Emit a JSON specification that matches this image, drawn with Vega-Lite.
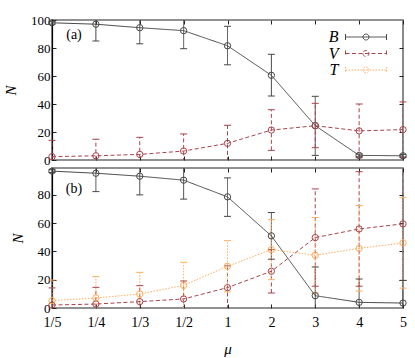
{
  "$schema": "https://vega.github.io/schema/vega-lite/v6.json",
  "padding": {"left": 2, "top": 13, "right": 5, "bottom": 0},
  "config": {
    "font": "Liberation Serif",
    "view": {"stroke": "#6e6e6e", "strokeWidth": 1.6},
    "axis": {"labelFont": "Liberation Serif", "labelFontSize": 13, "labelColor": "#000", "tickColor": "#222", "tickSize": -4, "grid": false, "domain": false, "titleFont": "Liberation Serif", "titleColor": "#000", "labelAngle": 0},
    "concat": {"spacing": -3}
  },
  "datasets": {
    "d": [
      {"p": "a", "mu": "1/5", "s": "B", "n": 98, "lo": 97, "hi": 99},
      {"p": "a", "mu": "1/4", "s": "B", "n": 97, "lo": 85, "hi": 109},
      {"p": "a", "mu": "1/3", "s": "B", "n": 94.5, "lo": 83, "hi": 106},
      {"p": "a", "mu": "1/2", "s": "B", "n": 92.4, "lo": 79.5, "hi": 105},
      {"p": "a", "mu": "1", "s": "B", "n": 81.6, "lo": 68, "hi": 95.5},
      {"p": "a", "mu": "2", "s": "B", "n": 60.5, "lo": 45.7, "hi": 75.5},
      {"p": "a", "mu": "3", "s": "B", "n": 24.5, "lo": 3.3, "hi": 45.5},
      {"p": "a", "mu": "4", "s": "B", "n": 3.3, "lo": 2.3, "hi": 4.3},
      {"p": "a", "mu": "5", "s": "B", "n": 3, "lo": 2, "hi": 4},
      {"p": "a", "mu": "1/5", "s": "V", "n": 2.4, "lo": -9, "hi": 14},
      {"p": "a", "mu": "1/4", "s": "V", "n": 3, "lo": -9, "hi": 14.8},
      {"p": "a", "mu": "1/3", "s": "V", "n": 4, "lo": -8, "hi": 16.2},
      {"p": "a", "mu": "1/2", "s": "V", "n": 6.4, "lo": -6, "hi": 18.6},
      {"p": "a", "mu": "1", "s": "V", "n": 11.9, "lo": -1, "hi": 24.8},
      {"p": "a", "mu": "2", "s": "V", "n": 21.4, "lo": 6.9, "hi": 35.9},
      {"p": "a", "mu": "3", "s": "V", "n": 24.5, "lo": 8.8, "hi": 40.5},
      {"p": "a", "mu": "4", "s": "V", "n": 20.8, "lo": 1.6, "hi": 40},
      {"p": "a", "mu": "5", "s": "V", "n": 21.7, "lo": 2, "hi": 41.5},
      {"p": "b", "mu": "1/5", "s": "B", "n": 96.8, "lo": 95.8, "hi": 97.8},
      {"p": "b", "mu": "1/4", "s": "B", "n": 95.3, "lo": 82.3, "hi": 108},
      {"p": "b", "mu": "1/3", "s": "B", "n": 93.2, "lo": 80, "hi": 106},
      {"p": "b", "mu": "1/2", "s": "B", "n": 90.4, "lo": 77, "hi": 104},
      {"p": "b", "mu": "1", "s": "B", "n": 78.6, "lo": 64.8, "hi": 92},
      {"p": "b", "mu": "2", "s": "B", "n": 51, "lo": 34.5, "hi": 67.5},
      {"p": "b", "mu": "3", "s": "B", "n": 8.7, "lo": -12, "hi": 29},
      {"p": "b", "mu": "4", "s": "B", "n": 4, "lo": -12.5, "hi": 20.5},
      {"p": "b", "mu": "5", "s": "B", "n": 3.5, "lo": -12.5, "hi": 19.5},
      {"p": "b", "mu": "1/5", "s": "V", "n": 2.1, "lo": -10, "hi": 14.2},
      {"p": "b", "mu": "1/4", "s": "V", "n": 2.8, "lo": -9, "hi": 14.6},
      {"p": "b", "mu": "1/3", "s": "V", "n": 4.5, "lo": -7, "hi": 15.8},
      {"p": "b", "mu": "1/2", "s": "V", "n": 6.4, "lo": -6, "hi": 19.1},
      {"p": "b", "mu": "1", "s": "V", "n": 14.4, "lo": -1, "hi": 29.8},
      {"p": "b", "mu": "2", "s": "V", "n": 26, "lo": 10.6, "hi": 41.4},
      {"p": "b", "mu": "3", "s": "V", "n": 49.8, "lo": 15.4, "hi": 84.2},
      {"p": "b", "mu": "4", "s": "V", "n": 55.9, "lo": 15.4, "hi": 96.4},
      {"p": "b", "mu": "5", "s": "V", "n": 59.5, "lo": 19.5, "hi": 99.5},
      {"p": "b", "mu": "1/5", "s": "T", "n": 5.2, "lo": -9.4, "hi": 19.8},
      {"p": "b", "mu": "1/4", "s": "T", "n": 7.1, "lo": -8, "hi": 22.2},
      {"p": "b", "mu": "1/3", "s": "T", "n": 9.9, "lo": -5.4, "hi": 25.2},
      {"p": "b", "mu": "1/2", "s": "T", "n": 16, "lo": -0.3, "hi": 32.3},
      {"p": "b", "mu": "1", "s": "T", "n": 29.5, "lo": 11.4, "hi": 47.6},
      {"p": "b", "mu": "2", "s": "T", "n": 41.3, "lo": 20, "hi": 62.5},
      {"p": "b", "mu": "3", "s": "T", "n": 37.3, "lo": 10.6, "hi": 64},
      {"p": "b", "mu": "4", "s": "T", "n": 42.2, "lo": 12, "hi": 72.4},
      {"p": "b", "mu": "5", "s": "T", "n": 46, "lo": 14, "hi": 78}
    ]
  },
  "data": {"name": "d"},
  "resolve": {"scale": {"color": "independent", "strokeDash": "independent"}, "legend": {"color": "independent", "strokeDash": "independent"}},
  "vconcat": [
    {
      "width": 351,
      "height": 140,
      "transform": [{"filter": "datum.p === 'a'"}],
      "resolve": {"axis": {"x": "independent", "y": "independent"}},
      "layer": [
        {
          "mark": {"type": "rule", "clip": true, "strokeWidth": 1},
          "encoding": {
            "x": {"field": "mu", "type": "ordinal", "scale": {"type": "point", "padding": 0, "domain": ["1/5", "1/4", "1/3", "1/2", "1", "2", "3", "4", "5"]}, "axis": {"orient": "bottom", "labels": false, "title": null}},
            "y": {"field": "lo", "type": "quantitative", "scale": {"domain": [0, 100], "nice": false}, "axis": {"orient": "left", "values": [0, 20, 40, 60, 80, 100], "title": "N", "titleFontStyle": "italic", "titleFontWeight": "normal", "titleFontSize": 15, "titlePadding": 12, "labelPadding": 6, "domain": true, "domainColor": "#000", "domainWidth": 1.2}},
            "y2": {"field": "hi"},
            "color": {"field": "s", "type": "nominal", "scale": {"domain": ["B", "V", "T"], "range": ["#474747", "#a8434c", "#ffad5c"]}, "legend": {"orient": "none", "legendX": 306, "legendY": 9, "title": null, "symbolType": "M-5.125,0H5.125M-5.125,-0.75V0.75M5.125,-0.75V0.75M-0.75,0A0.75,0.75,0,1,0,0.75,0A0.75,0.75,0,1,0,-0.75,0", "symbolSize": 64, "symbolStrokeWidth": 1, "symbolFillColor": "transparent", "labelFont": "Liberation Serif", "labelFontStyle": "italic", "labelFontSize": 16, "labelColor": "#000", "labelAlign": "right", "labelOffset": -35.5, "rowPadding": 0.5}},
            "strokeDash": {"field": "s", "type": "nominal", "scale": {"domain": ["B", "V", "T"], "range": [[1, 0], [4, 2.5], [1.5, 1.5]]}, "legend": {"orient": "none", "legendX": 306, "legendY": 9, "title": null}}
          }
        },
        {
          "transform": [{"filter": "datum.lo >= 0"}],
          "mark": {"type": "point", "shape": "stroke", "size": 49, "strokeWidth": 1, "filled": false, "opacity": 1},
          "encoding": {
            "x": {"field": "mu", "type": "ordinal", "axis": {"orient": "top", "labels": false, "title": null}},
            "y": {"field": "lo", "type": "quantitative", "axis": {"orient": "right", "labels": false, "title": null, "values": [20, 40, 60, 80]}},
            "color": {"field": "s", "type": "nominal"}
          }
        },
        {
          "transform": [{"filter": "datum.hi <= 100"}],
          "mark": {"type": "point", "shape": "stroke", "size": 49, "strokeWidth": 1, "filled": false, "opacity": 1},
          "encoding": {
            "x": {"field": "mu", "type": "ordinal", "axis": null},
            "y": {"field": "hi", "type": "quantitative", "axis": null},
            "color": {"field": "s", "type": "nominal"}
          }
        },
        {
          "mark": {"type": "line", "strokeWidth": 1},
          "encoding": {
            "x": {"field": "mu", "type": "ordinal", "axis": null},
            "y": {"field": "n", "type": "quantitative", "axis": null},
            "color": {"field": "s", "type": "nominal"},
            "strokeDash": {"field": "s", "type": "nominal"}
          }
        },
        {
          "mark": {"type": "point", "shape": "circle", "size": 40, "strokeWidth": 1, "filled": false, "opacity": 1},
          "encoding": {
            "x": {"field": "mu", "type": "ordinal", "axis": null},
            "y": {"field": "n", "type": "quantitative", "axis": null},
            "color": {"field": "s", "type": "nominal"}
          }
        },
        {
          "data": {"values": [{"lab": "(a)"}]},
          "mark": {"type": "text", "font": "Liberation Serif", "fontSize": 14, "align": "center", "baseline": "middle", "dx": 22, "color": "#000"},
          "encoding": {
            "x": {"datum": "1/5", "type": "ordinal", "axis": null},
            "y": {"datum": 89, "type": "quantitative", "axis": null},
            "text": {"field": "lab"}
          }
        }
      ]
    },
    {
      "width": 351,
      "height": 140,
      "transform": [{"filter": "datum.p === 'b'"}],
      "resolve": {"axis": {"x": "independent", "y": "independent"}},
      "layer": [
        {
          "mark": {"type": "rule", "clip": true, "strokeWidth": 1},
          "encoding": {
            "x": {"field": "mu", "type": "ordinal", "scale": {"type": "point", "padding": 0, "domain": ["1/5", "1/4", "1/3", "1/2", "1", "2", "3", "4", "5"]}, "axis": {"orient": "bottom", "title": "μ", "titleFontStyle": "italic", "titleFontWeight": "normal", "titleFontSize": 15, "titlePadding": 12, "labelFontSize": 14, "labelPadding": 11}},
            "y": {"field": "lo", "type": "quantitative", "scale": {"domain": [0, 99], "nice": false}, "axis": {"orient": "left", "values": [0, 20, 40, 60, 80], "title": "N", "titleFontStyle": "italic", "titleFontWeight": "normal", "titleFontSize": 15, "titlePadding": 12, "labelPadding": 6, "domain": true, "domainColor": "#000", "domainWidth": 1.2}},
            "y2": {"field": "hi"},
            "color": {"field": "s", "type": "nominal", "scale": {"domain": ["B", "V", "T"], "range": ["#474747", "#a8434c", "#ffad5c"]}, "legend": null},
            "strokeDash": {"field": "s", "type": "nominal", "scale": {"domain": ["B", "V", "T"], "range": [[1, 0], [4, 2.5], [1.5, 1.5]]}, "legend": null}
          }
        },
        {
          "transform": [{"filter": "datum.lo >= 0"}],
          "mark": {"type": "point", "shape": "stroke", "size": 49, "strokeWidth": 1, "filled": false, "opacity": 1},
          "encoding": {
            "x": {"field": "mu", "type": "ordinal", "axis": {"orient": "top", "labels": false, "title": null}},
            "y": {"field": "lo", "type": "quantitative", "axis": {"orient": "right", "labels": false, "title": null, "values": [20, 40, 60, 80]}},
            "color": {"field": "s", "type": "nominal"}
          }
        },
        {
          "transform": [{"filter": "datum.hi <= 99"}],
          "mark": {"type": "point", "shape": "stroke", "size": 49, "strokeWidth": 1, "filled": false, "opacity": 1},
          "encoding": {
            "x": {"field": "mu", "type": "ordinal", "axis": null},
            "y": {"field": "hi", "type": "quantitative", "axis": null},
            "color": {"field": "s", "type": "nominal"}
          }
        },
        {
          "mark": {"type": "line", "strokeWidth": 1},
          "encoding": {
            "x": {"field": "mu", "type": "ordinal", "axis": null},
            "y": {"field": "n", "type": "quantitative", "axis": null},
            "color": {"field": "s", "type": "nominal"},
            "strokeDash": {"field": "s", "type": "nominal"}
          }
        },
        {
          "mark": {"type": "point", "shape": "circle", "size": 40, "strokeWidth": 1, "filled": false, "opacity": 1},
          "encoding": {
            "x": {"field": "mu", "type": "ordinal", "axis": null},
            "y": {"field": "n", "type": "quantitative", "axis": null},
            "color": {"field": "s", "type": "nominal"}
          }
        },
        {
          "data": {"values": [{"lab": "(b)"}]},
          "mark": {"type": "text", "font": "Liberation Serif", "fontSize": 14, "align": "center", "baseline": "middle", "dx": 22, "color": "#000"},
          "encoding": {
            "x": {"datum": "1/5", "type": "ordinal", "axis": null},
            "y": {"datum": 84, "type": "quantitative", "axis": null},
            "text": {"field": "lab"}
          }
        }
      ]
    }
  ]
}
